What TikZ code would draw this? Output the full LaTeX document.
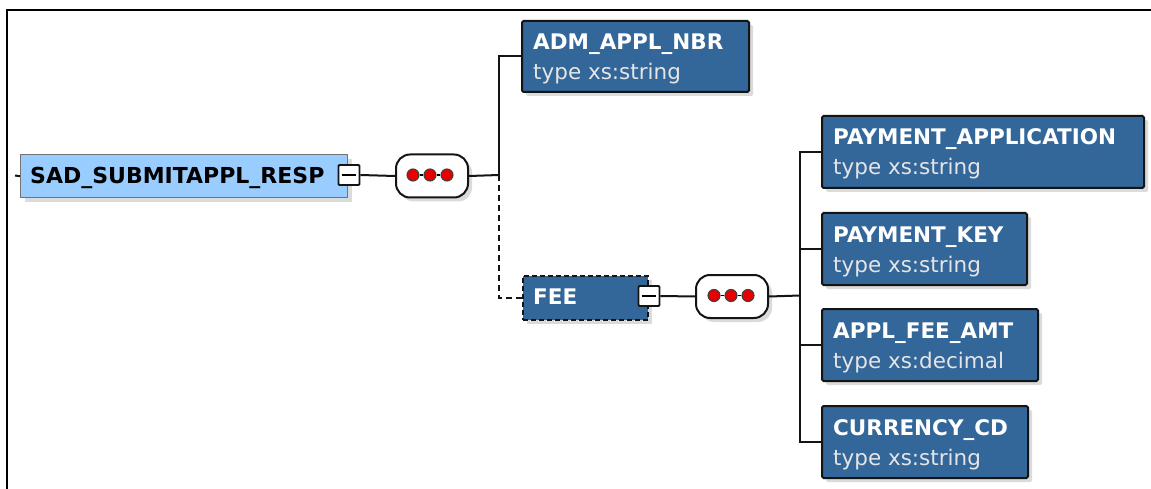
\documentclass[tikz,border=0pt]{standalone}
\usepackage{fontspec}
\setmainfont{DejaVu Sans}
\usetikzlibrary{shadows}
\definecolor{elemblue}{HTML}{336699}
\definecolor{rootblue}{HTML}{99CCFF}
\definecolor{edgecol}{HTML}{141414}
\definecolor{dotred}{HTML}{E80000}
\tikzset{
  shade/.style={drop shadow={shadow xshift=4pt,shadow yshift=-4pt,fill=black!35,opacity=0.4}},
  elem/.style={draw=edgecol,line width=2pt,fill=elemblue,rounded corners=1.5pt,inner sep=0pt,anchor=north west,shade},
  rootbox/.style={draw=black!55,line width=1.4pt,fill=rootblue,inner sep=0pt,anchor=north west,shade},
  feebox/.style={draw=edgecol,line width=2.2pt,dash pattern=on 5pt off 3pt,fill=elemblue,inner sep=0pt,anchor=north west,shade},
  titletxt/.style={text=white,font=\bfseries\fontsize{21.5}{21.5}\selectfont,anchor=base west,inner sep=0pt},
  roottxt/.style={text=black,font=\bfseries\fontsize{22}{22}\selectfont,anchor=base west,inner sep=0pt},
  typetxt/.style={text=white!90!black,font=\fontsize{21.5}{21.5}\selectfont,anchor=base west,inner sep=0pt},
  seqbox/.style={draw=edgecol,line width=2pt,fill=white,rounded corners=14pt,inner sep=0pt,anchor=north west,minimum width=72pt,minimum height=43pt,shade},
  minusbox/.style={draw=edgecol,line width=1.8pt,fill=white,inner sep=0pt,minimum width=21pt,minimum height=20pt,rounded corners=1pt},
  reddot/.style={circle,draw=black!75,line width=1.1pt,fill=dotred,inner sep=0pt,minimum size=12pt},
  conn/.style={draw=edgecol,line width=2pt},
  optconn/.style={conn,dash pattern=on 6pt off 4pt},
}
\begin{document}
\begin{tikzpicture}[x=1pt,y=-1pt]
\useasboundingbox (0,0) rectangle (1151,489);
\fill[white] (0,0) rectangle (1151,489);
\draw[line width=2pt] (7,489) -- (7,10) -- (1151,10);

% root
\node[rootbox,minimum width=327pt,minimum height=43pt] (root) at (20,154) {};
\node[roottxt] (roott) at (30,184) {SAD\_SUBMITAPPL\_RESP};
\coordinate (rootstub) at (15,175.5);
\draw[conn] (rootstub) -- (root.west);
\node[minusbox] (rootminus) at (349,175) {};
\draw[line width=1.6pt] ([xshift=4pt]rootminus.west) -- ([xshift=-4pt]rootminus.east);

% sequence 1
\node[seqbox] (seq1) at (395,153.5) {};
\node[reddot] (s1a) at (413,175) {};
\node[reddot] (s1b) at (430,175) {};
\node[reddot] (s1c) at (447,175) {};
\draw[line width=1.4pt] (s1a) -- (s1b) (s1b) -- (s1c);
\draw[conn] (rootminus.east) -- (seq1.west);
\coordinate (j1) at (499,175);
\draw[conn] (seq1.east) -- (j1);

% ADM_APPL_NBR
\node[elem,minimum width=227pt,minimum height=71pt] (adm) at (521,20) {};
\node[titletxt] (admt) at (533,50) {ADM\_APPL\_NBR};
\node[typetxt] (adms) at (533,80) {type xs:string};
\draw[conn] (j1) |- (adm.west);

% FEE
\node[feebox,minimum width=125pt,minimum height=44pt] (fee) at (522,274.5) {};
\node[titletxt] (feet) at (533,304) {FEE};
\draw[optconn] (j1) |- (fee.west);
\node[minusbox] (feeminus) at (649,296) {};
\draw[line width=1.6pt] ([xshift=4pt]feeminus.west) -- ([xshift=-4pt]feeminus.east);

% sequence 2
\node[seqbox] (seq2) at (695,274) {};
\node[reddot] (s2a) at (714,295.5) {};
\node[reddot] (s2b) at (731,295.5) {};
\node[reddot] (s2c) at (748,295.5) {};
\draw[line width=1.4pt] (s2a) -- (s2b) (s2b) -- (s2c);
\draw[conn] (feeminus.east) -- (seq2.west);
\coordinate (j2) at (800,295.5);
\draw[conn] (seq2.east) -- (j2);

% children
\node[elem,minimum width=322pt,minimum height=72pt] (pa) at (821,115) {};
\node[titletxt] (pat) at (833,145) {PAYMENT\_APPLICATION};
\node[typetxt] (pas) at (833,175) {type xs:string};

\node[elem,minimum width=205pt,minimum height=72pt] (pk) at (821,212) {};
\node[titletxt] (pkt) at (833,242) {PAYMENT\_KEY};
\node[typetxt] (pks) at (833,272) {type xs:string};

\node[elem,minimum width=216pt,minimum height=72pt] (afa) at (821,308) {};
\node[titletxt] (afat) at (833,338) {APPL\_FEE\_AMT};
\node[typetxt] (afas) at (833,368) {type xs:decimal};

\node[elem,minimum width=206pt,minimum height=72pt] (cc) at (821,405) {};
\node[titletxt] (cct) at (833,435) {CURRENCY\_CD};
\node[typetxt] (ccs) at (833,465) {type xs:string};

\draw[conn] (j2) |- (pa.west);
\draw[conn] (j2) |- (pk.west);
\draw[conn] (j2) |- (afa.west);
\draw[conn] (j2) |- (cc.west);
\end{tikzpicture}
\end{document}
